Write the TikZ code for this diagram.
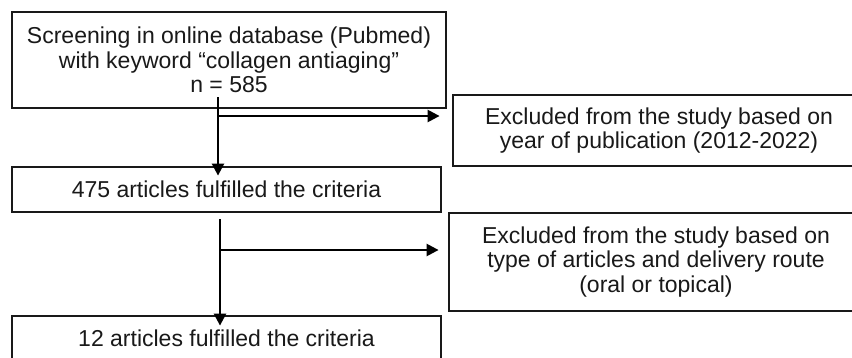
\documentclass[tikz,border=0pt]{standalone}
\usepackage{fontspec}
\setmainfont{Liberation Sans}
\usetikzlibrary{arrows.meta}
\begin{document}
\begin{tikzpicture}[x=1pt,y=-1pt,
  box/.style={draw=black!90, line width=2.8pt, fill=white, align=center, inner sep=0pt,
    font=\fontsize{23}{24.5}\selectfont, text=black!90},
  arr/.style={draw=black, line width=2.4pt, -{Triangle[length=12pt,width=12pt]}}]
\useasboundingbox (0,0) rectangle (852,357);
\node[box, minimum width=434pt, minimum height=96pt] (b1) at (229,60)
  {Screening in online database (Pubmed)\\with keyword “collagen antiaging”\\n = 585};
\node[box, minimum width=429pt, minimum height=45pt] (b2) at (226.5,189.5)
  {475 articles fulfilled the criteria};
\node[box, minimum width=412pt, minimum height=71pt] (b3) at (659,130.5)
  {Excluded from the study based on\\year of publication (2012-2022)};
\node[box, minimum width=414pt, minimum height=98pt] (b4) at (656,262)
  {Excluded from the study based on\\type of articles and delivery route\\(oral or topical)};
\node[box, minimum width=429pt, minimum height=44pt] (b5) at (226.5,338)
  {12 articles fulfilled the criteria};
\coordinate (s1) at (218,97);
\coordinate (j1) at (218,116);
\coordinate (s2) at (220,219);
\coordinate (j2) at (220,250);
\draw[arr, shorten >=-10pt] (s1) -- (s1 |- b2.north);
\draw[arr, shorten >=12pt] (j1) -- (j1 -| b3.west);
\draw[arr, shorten >=-11pt] (s2) -- (s2 |- b5.north);
\draw[arr, shorten >=9pt] (j2) -- (j2 -| b4.west);
\end{tikzpicture}
\end{document}
